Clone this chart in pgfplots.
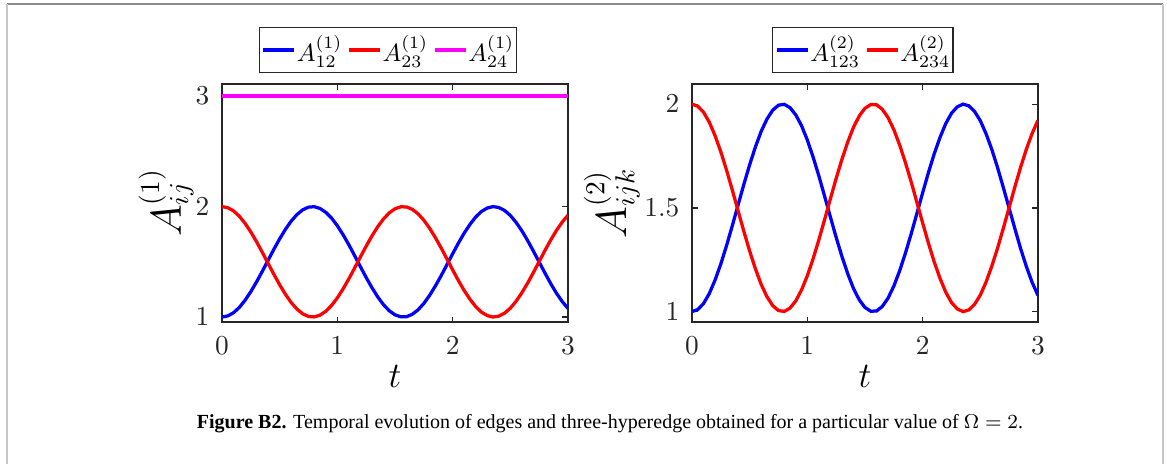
\documentclass[border=0pt]{standalone}
\usepackage{fontspec}
\setmainfont{Liberation Serif}
\usepackage{pgfplots}
\usepackage{pgfplotstable}
\pgfplotsset{compat=1.18}

% Edge weights sampled every 0.05 time units
\pgfplotstableread{
t     blue   red
0.00  1.000  2.000
0.05  1.010  1.990
0.10  1.039  1.961
0.15  1.087  1.913
0.20  1.152  1.848
0.25  1.230  1.770
0.30  1.319  1.681
0.35  1.415  1.585
0.40  1.515  1.485
0.45  1.614  1.386
0.50  1.708  1.292
0.55  1.794  1.206
0.60  1.869  1.131
0.65  1.928  1.072
0.70  1.971  1.029
0.75  1.995  1.005
0.80  1.999  1.001
0.85  1.983  1.017
0.90  1.948  1.052
0.95  1.896  1.105
1.00  1.827  1.173
1.05  1.745  1.255
1.10  1.654  1.346
1.15  1.556  1.444
1.20  1.456  1.544
1.25  1.358  1.642
1.30  1.266  1.734
1.35  1.183  1.817
1.40  1.112  1.888
1.45  1.057  1.943
1.50  1.020  1.980
1.55  1.002  1.998
1.60  1.003  1.997
1.65  1.025  1.975
1.70  1.065  1.935
1.75  1.123  1.877
1.80  1.196  1.804
1.85  1.281  1.719
1.90  1.374  1.626
1.95  1.473  1.527
2.00  1.573  1.427
2.05  1.670  1.330
2.10  1.760  1.240
2.15  1.839  1.161
2.20  1.906  1.094
2.25  1.956  1.044
2.30  1.987  1.013
2.35  2.000  1.000
2.40  1.992  1.008
2.45  1.965  1.035
2.50  1.920  1.080
2.55  1.857  1.143
2.60  1.781  1.220
2.65  1.693  1.307
2.70  1.597  1.403
2.75  1.498  1.502
2.80  1.399  1.602
2.85  1.303  1.697
2.90  1.216  1.784
2.95  1.140  1.860
3.00  1.078  1.922
}\edgedata

% Constant weight of edge (2,4)
\pgfplotstableread{
t     w
0.00  3.000
3.00  3.000
}\constdata

\definecolor{axisgray}{HTML}{262626}
\definecolor{mblue}{RGB}{0,0,255}
\definecolor{mred}{RGB}{255,0,0}
\definecolor{mmag}{RGB}{255,0,255}

\pgfplotsset{
  panel/.style={
    scale only axis,
    width=138.4pt, height=95.2pt,
    anchor=south west,
    xmin=0, xmax=3,
    xtick={0,1,2,3},
    axis line style={axisgray, line width=0.6pt},
    tick style={axisgray, line width=0.5pt},
    tick align=inside,
    major tick length=2.2pt,
    tick label style={font=\fontsize{10.6}{12}\selectfont, text=axisgray},
    xticklabel style={yshift=-2.5pt},
    yticklabel style={xshift=-1.5pt},
    xlabel={$t$},
    xlabel style={font=\fontsize{14.5}{16}\selectfont, at={(axis description cs:0.5,-0.23)}, anchor=center},
    legend columns=-1,
    legend style={draw=axisgray, line width=0.5pt, font=\fontsize{10.4}{12}\selectfont,
      anchor=south, inner xsep=0.8pt, inner ysep=1.5pt,
      nodes={inner xsep=0.3pt, inner ysep=1.5pt},
      /tikz/every even column/.append style={column sep=1.6pt}},
    legend image code/.code={\draw[#1, line width=1.6pt] (0pt,0pt) -- (12.3pt,0pt);},
    every axis plot/.append style={line width=1.3pt},
  }
}

\begin{document}
\begin{tikzpicture}
\path[use as bounding box] (0pt,0pt) rectangle (466.8pt,-185.2pt);
% page frame
\draw[color=black!45, line width=0.6pt] (2.8pt,-1.6pt) -- (465.2pt,-1.6pt);
\draw[color=black!22, line width=0.6pt] (2.8pt,-1.6pt) -- (2.8pt,-200pt);
\draw[color=black!22, line width=0.6pt] (465.2pt,-1.6pt) -- (465.2pt,-200pt);

% first-order edges
\begin{axis}[panel,
  at={(88.8pt,-128.8pt)},
  ymin=0.955, ymax=3.11,
  ytick={1,2,3},
  ylabel={$A^{(1)}_{ij}$},
  ylabel style={font=\fontsize{16}{18}\selectfont, at={(axis description cs:-0.162,0.5)}, anchor=center},
  legend style={at={(0.48,1)}, yshift=4.4pt},
]
\addplot[mblue] table[x=t, y=blue] {\edgedata};
\addlegendentry{$A^{(1)}_{12}$}
\addplot[mred] table[x=t, y=red] {\edgedata};
\addlegendentry{$A^{(1)}_{23}$}
\addplot[mmag, line width=1.5pt] table[x=t, y=w] {\constdata};
\addlegendentry{$A^{(1)}_{24}$}
\end{axis}

% three-hyperedges
\begin{axis}[panel,
  at={(276.8pt,-128.8pt)},
  ymin=0.95, ymax=2.097,
  ytick={1,1.5,2},
  ylabel={$A^{(2)}_{ijk}$},
  ylabel style={font=\fontsize{16}{18}\selectfont, at={(axis description cs:-0.232,0.5)}, anchor=center},
  legend style={at={(0.494,1)}, yshift=4.4pt},
]
\addplot[mblue] table[x=t, y=blue] {\edgedata};
\addlegendentry{$A^{(2)}_{123}$}
\addplot[mred] table[x=t, y=red] {\edgedata};
\addlegendentry{$A^{(2)}_{234}$}
\end{axis}

\node[anchor=base, inner sep=0pt] at (244pt,-171.2pt)
  {\fontsize{8}{10}\selectfont\textbf{Figure B2.} Temporal evolution of edges and three-hyperedge obtained for a particular value of $\Omega=2$.};
\end{tikzpicture}
\end{document}
